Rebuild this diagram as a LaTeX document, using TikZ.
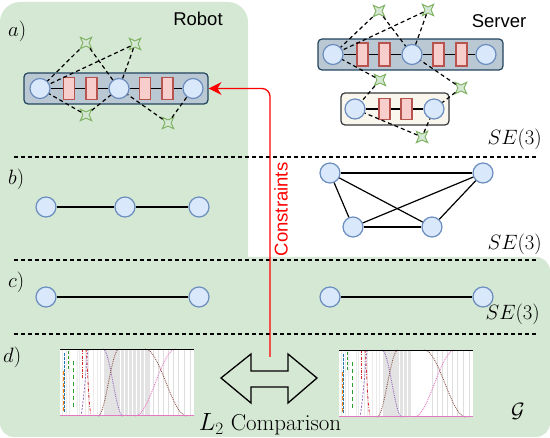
\documentclass[tikz,border=0pt]{standalone}
\usepackage{fontspec}
\newfontfamily\sansf{Liberation Sans}
\usetikzlibrary{shapes.geometric,arrows.meta}
\definecolor{bggreen}{HTML}{D5E8D4}
\definecolor{circfill}{HTML}{DAE8FC}
\definecolor{circdraw}{HTML}{6C8EBF}
\definecolor{rectfill}{HTML}{F8CECC}
\definecolor{rectdraw}{HTML}{B85450}
\definecolor{boxfill}{HTML}{BAC8D3}
\definecolor{boxdraw}{HTML}{23445D}
\definecolor{creamfill}{HTML}{F9F7ED}
\definecolor{creamdraw}{HTML}{36393D}
\definecolor{stardraw}{HTML}{82B366}
\definecolor{cblue}{HTML}{1F77B4}
\definecolor{corange}{HTML}{FF7F0E}
\definecolor{cgreen}{HTML}{2CA02C}
\definecolor{cred}{HTML}{D62728}
\definecolor{cpurple}{HTML}{9467BD}
\definecolor{cbrown}{HTML}{8C564B}
\definecolor{cpink}{HTML}{E377C2}
\newcommand\drawchart[1]{%
  \fill[white] (0,0) rectangle (134,67);
  \fill[black!11] (44,0) rectangle (#1,67);
  \foreach \xx in {2,6,9,17,19,25,28,33,37,40} {\fill[black!8] (\xx,0) rectangle ++(1.2,67);}
  \foreach \xx in {60,64,68,72,76,80,84} {\fill[white] (\xx,0) rectangle ++(1.2,67);}
  \foreach \xx in {93,98,103,108,113,118,124,130} {\fill[black!13] (\xx,0) rectangle ++(1.1,67);}
  \draw[cblue, line width=0.8pt, dash pattern=on 3pt off 1pt] (4.5,4) -- (4.5,64);
  \draw[corange, line width=0.8pt, dash pattern=on 4pt off 2pt] (3,22) -- (3,62);
  \draw[cgreen, line width=0.8pt, dash pattern=on 3pt off 2pt] (8,2) -- (8,22);
  \draw[cgreen, line width=0.8pt, dash pattern=on 4pt off 3pt] (13,12) -- (13,58);
  \draw[cred, line width=0.8pt, dash pattern=on 3pt off 1.5pt on 0.6pt off 1.5pt] (22,0) -- (22,30);
  \draw[cred, line width=0.8pt, dash pattern=on 3pt off 1.5pt on 0.6pt off 1.5pt] (26,0) .. controls (28,20) and (28,50) .. (31,67);
  \draw[cpurple, line width=0.8pt, dash pattern=on 2pt off 1.5pt] (28,0) .. controls (26,20) and (24,50) .. (21,67);
  \draw[cpurple, line width=0.9pt, densely dotted] plot[domain=43:63, samples=25] (\x, {33.5*(1+sin(90*(\x-53)/10))});
  \draw[cbrown, line width=0.9pt, densely dotted] plot[domain=38:59, samples=25] (\x, {33.5*(1-sin(90*(\x-48.5)/10.5))});
  \draw[cpink, line width=0.9pt, densely dotted] plot[domain=75:116, samples=30] (\x, {33.5*(1-sin(90*(\x-95.5)/20.5))});
  \draw[cbrown, line width=0.9pt, densely dotted] plot[domain=85:127, samples=30] (\x, {33.5*(1+sin(90*(\x-106)/21))});
  \draw[line width=0.9pt] (0,0.5) -- (134,0.5);
  \draw[cpink, line width=0.9pt] (0,66.5) -- (134,66.5);
}
\begin{document}
\begin{tikzpicture}[x=1pt, y=-1pt,
  vtx/.style={circle, fill=circfill, draw=circdraw, line width=1.2pt, minimum size=20pt, inner sep=0pt},
  fac/.style={rectangle, fill=rectfill, draw=rectdraw, line width=1.2pt, minimum width=11pt, minimum height=22pt, inner sep=0pt},
  lmk/.style={star, star points=4, star point ratio=2.6, shape border rotate=45, fill=bggreen, draw=stardraw, line width=1pt, minimum size=16pt, inner sep=0pt},
  gbox/.style={rectangle, rounded corners=4pt, fill=boxfill, draw=boxdraw, line width=1.2pt, inner sep=0pt},
  cbox/.style={rectangle, rounded corners=4pt, fill=creamfill, draw=creamdraw, line width=1.2pt, inner sep=0pt},
  lnk/.style={line width=1.2pt, black},
  meas/.style={line width=1.2pt, black, dash pattern=on 4pt off 3pt},
  sepline/.style={line width=1.2pt, black, dash pattern=on 4pt off 3pt},
  lbl/.style={font=\fontsize{22}{26}\selectfont, inner sep=0pt},
  stxt/.style={font=\sansf\fontsize{18.5}{22}\selectfont, inner sep=0pt}]
\useasboundingbox (0,0) rectangle (550,438);
% background
\fill[bggreen, rounded corners=20pt] (0,2) rectangle (248,437);
\fill[bggreen, rounded corners=14pt] (0,257) rectangle (550,437);
% separators
\draw[sepline] (14,157) -- (538,157);
\draw[sepline] (14,260) -- (538,260);
\draw[sepline] (14,334) -- (538,334);
% ---------- a) robot
\node[gbox, minimum width=184pt, minimum height=31pt] (rbox) at (116,88.5) {};
\node[vtx] (r1) at (40,88.5) {};
\node[vtx] (r2) at (119,88.5) {};
\node[vtx] (r3) at (193,88.5) {};
\draw[lnk] (r1) -- (r2);
\draw[lnk] (r2) -- (r3);
\node[fac] (rf1) at (69,88.5) {};
\node[fac] (rf2) at (91.5,88.5) {};
\node[fac] (rf3) at (145,88.5) {};
\node[fac] (rf4) at (167.5,88.5) {};
\node[lmk] (s1) at (86,43) {};
\node[lmk] (s2) at (135,44) {};
\node[lmk] (s3) at (86,115) {};
\node[lmk] (s4) at (168,123) {};
\draw[meas] (s1) -- (r1);
\draw[meas] (s1) -- (r2);
\draw[meas] (s2) -- (r1);
\draw[meas] (s2) -- (r2);
\draw[meas] (s3) -- (r1);
\draw[meas] (s3) -- (r2);
\draw[meas] (s4) -- (r2);
\draw[meas] (s4) -- (r3);
\node[stxt, anchor=base] (trobot) at (198,25.7) {Robot};
% ---------- a) server
\node[gbox, minimum width=185pt, minimum height=31pt] (sbox) at (410.5,54.5) {};
\node[vtx] (v1) at (333,54.5) {};
\node[vtx] (v2) at (412,54.5) {};
\node[vtx] (v3) at (486,54.5) {};
\draw[lnk] (v1) -- (v2);
\draw[lnk] (v2) -- (v3);
\node[fac, minimum height=23pt] (sf1) at (362.5,54.5) {};
\node[fac, minimum height=23pt] (sf2) at (384.5,54.5) {};
\node[fac, minimum height=23pt] (sf3) at (438.5,54.5) {};
\node[fac, minimum height=23pt] (sf4) at (461.5,54.5) {};
\node[cbox, minimum width=108pt, minimum height=32pt] (lbox) at (395,109) {};
\node[vtx] (w1) at (355,109) {};
\node[vtx] (w2) at (434,109) {};
\draw[lnk] (w1) -- (w2);
\node[fac, minimum height=21pt] (wf1) at (384.5,109) {};
\node[fac, minimum height=21pt] (wf2) at (406.5,109) {};
\node[lmk] (t1) at (379,11) {};
\node[lmk] (t2) at (428,10) {};
\node[lmk] (t3) at (380,80) {};
\node[lmk] (t4) at (461,88) {};
\node[lmk] (t5) at (422,137) {};
\draw[meas] (t1) -- (v1);
\draw[meas] (t1) -- (v2);
\draw[meas] (t2) -- (v1);
\draw[meas] (t2) -- (v2);
\draw[meas] (t3) -- (v1);
\draw[meas] (t3) -- (w1);
\draw[meas] (t4) -- (v2);
\draw[meas] (t4) -- (w2);
\draw[meas] (t5) -- (w1);
\draw[meas] (t5) -- (w2);
\node[stxt, anchor=base] (tserver) at (499,28) {Server};
% ---------- b)
\node[vtx] (b1) at (46,207) {};
\node[vtx] (b2) at (125,207) {};
\node[vtx] (b3) at (199,207) {};
\draw[lnk] (b1) -- (b2);
\draw[lnk] (b2) -- (b3);
\node[vtx] (k1) at (330,173) {};
\node[vtx] (k2) at (483,173) {};
\node[vtx] (k3) at (353,227) {};
\node[vtx] (k4) at (432,227) {};
\draw[lnk] (k1) -- (k2);
\draw[lnk] (k1) -- (k3);
\draw[lnk] (k1) -- (k4);
\draw[lnk] (k2) -- (k3);
\draw[lnk] (k2) -- (k4);
\draw[lnk] (k3) -- (k4);
% ---------- c)
\node[vtx] (c1) at (46,297) {};
\node[vtx] (c2) at (199,297) {};
\draw[lnk] (c1) -- (c2);
\node[vtx] (c3) at (330,297) {};
\node[vtx] (c4) at (483,297) {};
\draw[lnk] (c3) -- (c4);
% ---------- d) charts
\begin{scope}[shift={(60,349)}]
\drawchart{90}
\end{scope}
\begin{scope}[shift={(339,350)}]
\drawchart{73}
\end{scope}
\draw[line width=1.3pt, line join=miter] (221,378) -- (251,354) -- (251,371) -- (288,371) -- (288,354) -- (317,378) -- (288,403) -- (288,387) -- (251,387) -- (251,403) -- cycle;
% ---------- constraints arrow
\coordinate (cb) at (270,357);
\draw[red, line width=1.3pt, rounded corners=8pt, -{Stealth[length=13pt, width=13pt]}] (cb) |- (rbox.east);
\node[stxt, red, rotate=90, anchor=base] (tcons) at (287.5,209.5) {Constraints};
% ---------- labels
\node[lbl, anchor=base west] (la) at (8,37) {$a)$};
\node[lbl, anchor=base west] (lb) at (8,185) {$b)$};
\node[lbl, anchor=base west] (lc) at (8,288) {$c)$};
\node[lbl, anchor=base west] (ld) at (3,363) {$d)$};
\node[lbl, anchor=base east] (se1) at (542,145) {$SE(3)$};
\node[lbl, anchor=base east] (se2) at (542,250) {$SE(3)$};
\node[lbl, anchor=base east] (se3) at (540,320) {$SE(3)$};
\node[lbl, anchor=base] (lg) at (518,418) {$\mathcal{G}$};
\node[lbl, anchor=base, font=\fontsize{23}{27}\selectfont] (lcomp) at (270,431) {$L_2$ Comparison};
\end{tikzpicture}
\end{document}
